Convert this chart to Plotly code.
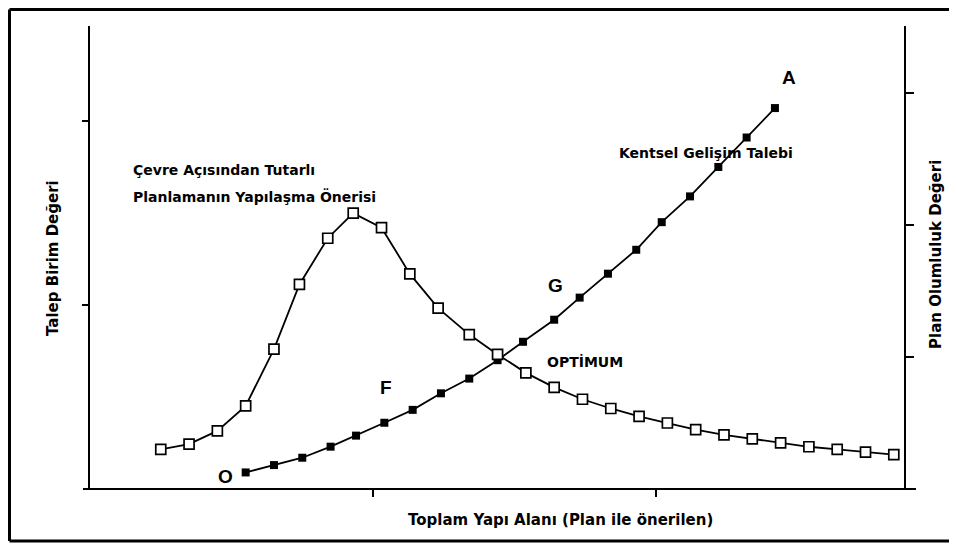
import plotly.graph_objects as go

# ---- data ----
# Planlamanın Yapılaşma Önerisi (open squares, right axis: Plan Olumluluk Değeri)
plan_x = [0.25, 0.35, 0.45, 0.55, 0.65, 0.74, 0.84, 0.93, 1.03, 1.13, 1.23, 1.34, 1.44,
          1.54, 1.64, 1.74, 1.84, 1.94, 2.04, 2.14, 2.24, 2.34, 2.44, 2.54, 2.64, 2.74, 2.84]
plan_y = [0.30, 0.34, 0.44, 0.63, 1.06, 1.55, 1.90, 2.09, 1.98, 1.63, 1.37, 1.17, 1.02,
          0.88, 0.77, 0.68, 0.61, 0.55, 0.50, 0.45, 0.41, 0.38, 0.35, 0.32, 0.30, 0.28, 0.26]

# Kentsel Gelişim Talebi (filled squares, left axis: Talep Birim Değeri)
talep_x = [0.55, 0.65, 0.75, 0.85, 0.94, 1.04, 1.14, 1.24, 1.34, 1.44,
           1.53, 1.64, 1.73, 1.83, 1.93, 2.02, 2.12, 2.22, 2.32, 2.42]
talep_y = [0.09, 0.13, 0.17, 0.23, 0.29, 0.36, 0.43, 0.52, 0.60, 0.70,
           0.80, 0.92, 1.04, 1.17, 1.30, 1.45, 1.59, 1.75, 1.91, 2.07]

x_ticks = [1, 2]
left_ticks = [1, 2]
right_ticks = [1, 2, 3]

FONT = "DejaVu Sans"
BIG = "Liberation Sans, Arial, sans-serif"

fig = go.Figure()
fig.add_trace(go.Scatter(
    x=plan_x, y=plan_y, yaxis="y2", mode="lines+markers",
    line=dict(color="black", width=1.8),
    marker=dict(symbol="square", size=10, color="white", line=dict(color="black", width=1.7)),
    showlegend=False, hoverinfo="skip"))
fig.add_trace(go.Scatter(
    x=talep_x, y=talep_y, mode="lines+markers",
    line=dict(color="black", width=1.8),
    marker=dict(symbol="square", size=8, color="black"),
    showlegend=False, hoverinfo="skip"))

# the page body has an 8px margin, so the figure is drawn 8px in from the window edge
OFF = 8
W, H = 957 - OFF, 546 - OFF
L, R, T, B = 90 - OFF, 957 - 904, 26 - OFF, 546 - 489
pw, ph = W - L - R, H - T - B

def px(xs):
    """screen x -> paper x"""
    return (xs - OFF - L) / pw

def py(ys):
    """screen y -> paper y"""
    return (OFF + H - B - ys) / ph

fig.update_layout(
    width=W, height=H,
    margin=dict(l=L, r=R, t=T, b=B),
    paper_bgcolor="white", plot_bgcolor="white",
    xaxis=dict(range=[0, 2.876], tickvals=x_ticks, ticks="outside", ticklen=7, tickwidth=2,
               tickcolor="black", showticklabels=False, showgrid=False, zeroline=False,
               showline=False),
    yaxis=dict(range=[0, 2.516], tickvals=left_ticks, ticks="outside", ticklen=6, tickwidth=2,
               tickcolor="black", showticklabels=False, showgrid=False, zeroline=False,
               showline=True, linecolor="black", linewidth=2),
    yaxis2=dict(range=[0, 3.508], overlaying="y", side="right", tickvals=right_ticks,
                ticks="outside", ticklen=8, tickwidth=2, tickcolor="black",
                showticklabels=False, showgrid=False, zeroline=False,
                showline=True, linecolor="black", linewidth=2),
)

shapes = [
    # x axis line, running a little past both vertical axes
    dict(type="line", xref="paper", yref="paper", x0=px(83), x1=px(916), y0=0, y1=0,
         line=dict(color="black", width=2)),
    # outer frame (top, left, bottom)
    dict(type="line", xref="paper", yref="paper", x0=px(9.5), x1=px(957), y0=py(9.5), y1=py(9.5),
         line=dict(color="black", width=3)),
    dict(type="line", xref="paper", yref="paper", x0=px(9.5), x1=px(9.5), y0=py(9.5), y1=py(541),
         line=dict(color="black", width=3)),
    dict(type="line", xref="paper", yref="paper", x0=px(9.5), x1=px(957), y0=py(541), y1=py(541),
         line=dict(color="black", width=3)),
]
fig.update_layout(shapes=shapes)

def ann(text, xs, ys, size=14, family=FONT, xanchor="center", angle=0):
    fig.add_annotation(text=text, xref="paper", yref="paper", x=px(xs), y=py(ys),
                       xanchor=xanchor, yanchor="middle", showarrow=False, textangle=angle,
                       font=dict(family=family, size=size, color="black", weight="bold"))

ann("Çevre Açısından Tutarlı", 131, 170, xanchor="left")
ann("Planlamanın Yapılaşma Önerisi", 131, 197, xanchor="left")
ann("Kentsel Gelişim Talebi", 617, 153, xanchor="left")
ann("OPTİMUM", 545, 362, xanchor="left")
ann("A", 789, 77, size=19, family=BIG)
ann("G", 555, 285, size=19, family=BIG)
ann("F", 386, 388, size=19, family=BIG)
ann("O", 225, 476, size=19, family=BIG)
ann("Toplam Yapı Alanı (Plan ile önerilen)", 560, 520, size=15)
ann("Talep Birim Değeri", 53, 258, size=15, angle=-90)
ann("Plan Olumluluk Değeri", 936, 255, size=15, angle=-90)

fig.write_html("out.html")
